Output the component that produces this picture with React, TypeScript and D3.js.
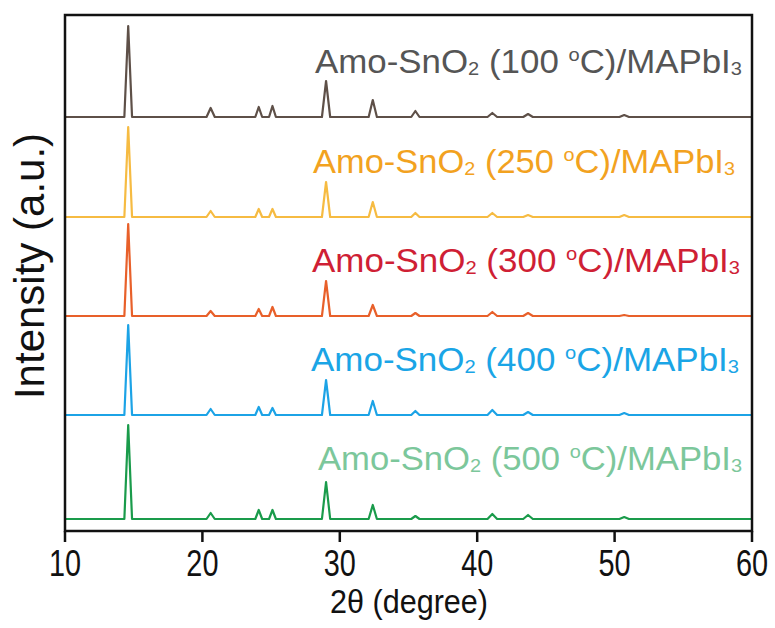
import React from "react";
import * as d3 from "d3";

// peak positions (2theta, deg)
const twoTheta = [14.6, 20.6, 24.1, 25.1, 29.0, 32.4, 35.5, 41.1, 43.7, 50.7];
const peakWidth = [0.28, 0.3, 0.25, 0.25, 0.3, 0.3, 0.3, 0.35, 0.35, 0.35];

// peak heights per sample (a.u.)
const h100 = [91, 9, 10, 11, 36, 17, 6, 4, 3, 2];
const h250 = [90, 6, 8, 8, 35, 15, 4, 4, 2, 2];
const h300 = [92, 5, 7, 9, 35, 11, 3, 4, 3, 1];
const h400 = [90, 6, 8, 7, 35, 14, 4, 5, 3, 2];
const h500 = [94, 6, 9, 9, 37, 14, 3, 5, 4, 2];

// vertical stacking offsets
const offsets = [414, 314, 215, 116, 12];
const temps = ["100", "250", "300", "400", "500"];
const lineColors = ["#5e5048", "#f6bb42", "#e8602a", "#1ca3e6", "#1a9b4b"];
const labelColors = ["#555555", "#f2a21f", "#cf1f35", "#1aa5e6", "#7cc79b"];
const xTicks = [10, 20, 30, 40, 50, 60];

const W = 775, H = 628;
const m = { left: 65, right: 752, top: 15, bottom: 531 };
const font = "'Liberation Sans', Arial, sans-serif";

export default function App() {
  const x = d3.scaleLinear().domain([10, 60]).range([m.left, m.right]);
  const y = d3.scaleLinear().domain([0, 516]).range([m.bottom, m.top]);
  const line = d3.line<[number, number]>().x(d => x(d[0])).y(d => y(d[1]));

  const heights = [h100, h250, h300, h400, h500];
  const series = heights.map((hs, si) => {
    const base = offsets[si];
    const pts: [number, number][] = [[10, base]];
    twoTheta.forEach((p, i) => {
      pts.push([p - peakWidth[i], base]);
      pts.push([p, base + hs[i]]);
      pts.push([p + peakWidth[i], base]);
    });
    pts.push([60, base]);
    return pts;
  });

  const labelPos = [
    { x: 315, y: 73, len: 427 },
    { x: 313, y: 173, len: 422 },
    { x: 312, y: 272, len: 428 },
    { x: 311, y: 371, len: 428 },
    { x: 318, y: 470, len: 424 },
  ];

  return (
    <svg width={W} height={H} style={{ position: "absolute", left: 0, top: 0, background: "#fff" }}>
      {series.map((pts, i) => (
        <path key={i} d={line(pts) || ""} fill="none" stroke={lineColors[i]} strokeWidth={2.2} strokeLinejoin="round" />
      ))}

      {temps.map((t, i) => (
        <text key={t} x={labelPos[i].x} y={labelPos[i].y} fill={labelColors[i]}
          fontFamily={font} fontSize={33} textLength={labelPos[i].len} lengthAdjust="spacingAndGlyphs">
          Amo-SnO<tspan fontSize={19} dy={2}>2</tspan>
          <tspan dy={-2}> ({t} </tspan>
          <tspan fontSize={19} dy={-12}>o</tspan>
          <tspan dy={12}>C)/MAPbI</tspan>
          <tspan fontSize={19} dy={2}>3</tspan>
        </text>
      ))}

      <rect x={m.left} y={m.top} width={m.right - m.left} height={m.bottom - m.top}
        fill="none" stroke="#111" strokeWidth={2.5} />

      {xTicks.map(t => (
        <g key={t} transform={`translate(${x(t)},${m.bottom})`}>
          <line y1={0} y2={11} stroke="#111" strokeWidth={2.5} />
          <text y={45} textAnchor="middle" fontFamily={font} fontSize={37} fill="#111"
            transform="scale(0.78,1)">{t}</text>
        </g>
      ))}

      <text x={330} y={613} fontFamily={font} fontSize={34} fill="#111"
        textLength={158} lengthAdjust="spacingAndGlyphs">
        2θ (degree)
      </text>
      <text transform={`translate(44,266) rotate(-90)`} textAnchor="middle" fontFamily={font} fontSize={42} fill="#111">
        Intensity (a.u.)
      </text>
    </svg>
  );
}
